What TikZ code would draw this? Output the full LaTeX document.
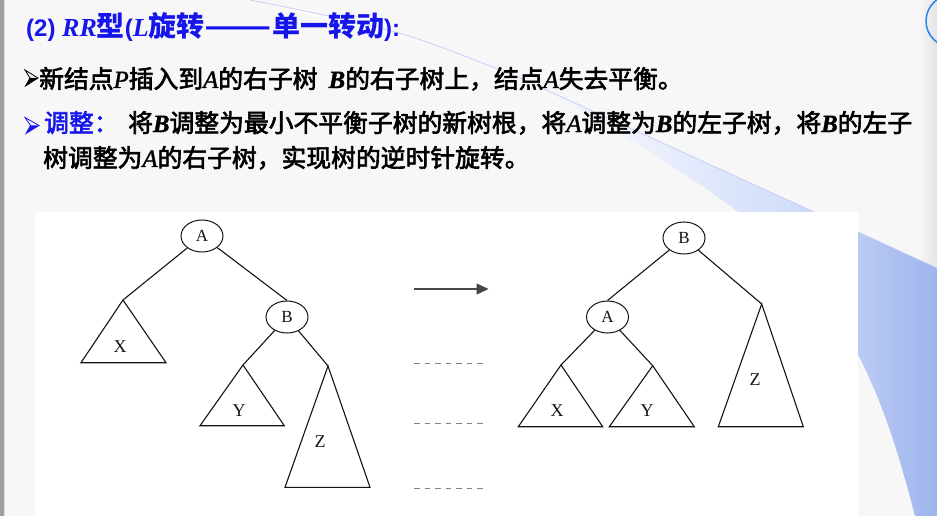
\documentclass[tikz,border=0pt]{standalone}
\usepackage{fontspec}
\setmainfont{Liberation Serif}
\newfontfamily\cjk{Noto Sans CJK SC}
\newfontfamily\cjkm[FakeBold=2.5]{Noto Sans CJK SC}
\newfontfamily\serifit{Liberation Serif}
\newfontfamily\serifm[FakeBold=1.5]{Liberation Serif}
\newfontfamily\sansb{Liberation Sans}
\usetikzlibrary{shapes.geometric,arrows.meta}
\definecolor{ttlblue}{RGB}{22,22,235}
\definecolor{slidebg}{RGB}{247,247,247}
\definecolor{swline}{RGB}{200,207,243}
\definecolor{swA}{RGB}{240,243,253}
\definecolor{swB}{RGB}{208,220,250}
\definecolor{swC}{RGB}{157,180,236}
\definecolor{inkc}{RGB}{20,20,20}
\definecolor{stripg}{RGB}{228,228,228}
\definecolor{bardark}{RGB}{160,160,160}
\definecolor{barlight}{RGB}{222,222,222}
\definecolor{logob}{RGB}{40,130,240}
\definecolor{arrg}{RGB}{70,70,70}
\definecolor{dashg}{RGB}{130,130,130}
\pgfdeclarehorizontalshading{swoosh}{100bp}{color(0bp)=(white); color(25bp)=(white); color(52bp)=(swA); color(65bp)=(swB); color(75bp)=(swC); color(100bp)=(swC)}
\tikzset{
  nd/.style={ellipse, draw=inkc, line width=1pt, minimum width=42, minimum height=32, inner sep=0pt, font=\serifit\fontsize{17}{17}\selectfont, text=inkc},
  edge/.style={draw=inkc, line width=1.1pt},
  tri/.style={draw=inkc, line width=1.1pt, line join=miter},
  lbl/.style={inner sep=0pt, font=\serifit\fontsize{18}{18}\selectfont, text=inkc},
  body/.style={anchor=base west, inner sep=0pt, font=\cjkm\fontsize{24.8}{30}\selectfont, text=black},
  bulout/.style={line width=0.8pt, line join=miter},
  dashl/.style={draw=dashg, line width=1.2pt, dash pattern=on 5.5pt off 5pt},
}
\newcommand\lit[1]{{\serifm\itshape #1}}
\newcommand\lbi[1]{{\serifm\bfseries\itshape #1}}
\begin{document}
\begin{tikzpicture}[x=1pt,y=-1pt]
\useasboundingbox (0,0) rectangle (937,516);
\clip (0,0) rectangle (937,516);
% background
\fill[slidebg] (0,0) rectangle (937,516);
\fill[left color=slidebg, right color=stripg] (918,0) rectangle (937,300);
\fill[bardark] (0,0) rectangle (3.5,516);
\fill[barlight] (3.5,0) rectangle (5,516);
% swoosh
\path[shading=swoosh] (250,0) .. controls (400,30) .. (520,78) -- (937,268) -- (937,516) -- (915,516)
   .. controls (885,400) and (850,300) .. (740,213) .. controls (640,140) and (540,85) .. (480,58) -- cycle;
\draw[swline, line width=0.8pt] (250,0) .. controls (400,30) .. (520,78) -- (937,268);
% logo ring
\draw[logob, line width=1.5pt] (952,21) circle (26);
% diagram area
\fill[white] (35,212) rectangle (858,516);
% title
\node[anchor=base west, inner sep=0pt, text=ttlblue, font=\cjk\bfseries\fontsize{28}{32}\selectfont] (ttl) at (26,37)
  {{\sansb\bfseries\fontsize{24}{28}\selectfont(2) }{\serifit\bfseries\itshape\fontsize{26}{28}\selectfont RR}型{\sansb\bfseries\fontsize{24}{28}\selectfont(}{\serifit\bfseries\itshape\fontsize{26}{28}\selectfont L}旋转\scalebox{1.4}[1]{——}单一转动{\sansb\bfseries\fontsize{24}{28}\selectfont):}};
% bullet 1 (black)
\coordinate (p1a) at (25,70); \coordinate (p1t) at (38,78); \coordinate (p1b) at (25.5,86); \coordinate (p1n) at (30,78);
\draw[bulout, black] (p1a) -- (p1t) -- (p1b) -- (p1n) -- cycle;
\fill[black] (p1n) -- (p1t) -- (p1b) -- cycle;
% bullet 2 (blue)
\coordinate (p2a) at (25,117.5); \coordinate (p2t) at (39,125.5); \coordinate (p2b) at (26,133.5); \coordinate (p2n) at (30.5,125.5);
\draw[bulout, ttlblue] (p2a) -- (p2t) -- (p2b) -- (p2n) -- cycle;
\fill[ttlblue] (p2n) -- (p2t) -- (p2b) -- cycle;
% text lines
\node[body] (ln2) at (39,88) {新结点\lit{P}插入到\lit{A}的右子树\hspace{0.45em}\lbi{B}的右子树上，结点\lit{A}失去平衡。};
\node[body, text=ttlblue] (adj) at (44,132) {调整：};
\node[body] (ln3) at (128,132) {将\lbi{B}调整为最小不平衡子树的新树根，将\lit{A}调整为\lbi{B}的左子树，将\lbi{B}的左子};
\node[body] (ln4) at (43,167) {树调整为\lit{A}的右子树，实现树的逆时针旋转。};
% left tree
\node[nd] (A1) at (202,236) {A};
\node[nd] (B1) at (287,317) {B};
\coordinate (X1t) at (123,300);
\coordinate (Y1t) at (243,365);
\coordinate (Z1t) at (328,366);
\draw[edge] (A1) -- (X1t);
\draw[edge] (A1) -- (B1.north);
\draw[edge] (B1) -- (Y1t);
\draw[edge] (B1) -- (Z1t);
\draw[tri] (X1t) -- (81,362.7) -- (166,362.7) -- cycle;
\draw[tri] (Y1t) -- (200,425.7) -- (284.3,425.7) -- cycle;
\draw[tri] (Z1t) -- (285,487.3) -- (370,487.3) -- cycle;
\node[lbl] (X1) at (120,347) {X};
\node[lbl] (Y1) at (239,411) {Y};
\node[lbl] (Z1) at (320,442) {Z};
% arrow and dashed lines
\coordinate (arS) at (414,289);
\coordinate (arE) at (488.5,289);
\draw[arrg, line width=1.3pt, -{Triangle[length=12pt,width=11pt]}] (arS) -- (arE);
\coordinate (d1s) at (414,363.3); \coordinate (d1e) at (485,363.3);
\coordinate (d2s) at (414,423.3); \coordinate (d2e) at (485,423.3);
\coordinate (d3s) at (414,488.7); \coordinate (d3e) at (485,488.7);
\draw[dashl] (d1s) -- (d1e);
\draw[dashl] (d2s) -- (d2e);
\draw[dashl] (d3s) -- (d3e);
% right tree
\node[nd] (B2) at (684,238) {B};
\node[nd] (A2) at (607.5,317) {A};
\coordinate (X2t) at (561,365);
\coordinate (Y2t) at (652.7,365.7);
\coordinate (Z2t) at (761.7,304);
\draw[edge] (B2) -- (A2.north);
\draw[edge] (B2) -- (Z2t);
\draw[edge] (A2) -- (X2t);
\draw[edge] (A2) -- (Y2t);
\draw[tri] (X2t) -- (518.3,426.7) -- (602.7,426.7) -- cycle;
\draw[tri] (Y2t) -- (609.3,426.7) -- (694.3,426.7) -- cycle;
\draw[tri] (Z2t) -- (718.3,426.7) -- (803.3,426.7) -- cycle;
\node[lbl] (X2) at (557,411) {X};
\node[lbl] (Y2) at (647,411) {Y};
\node[lbl] (Z2) at (755,380) {Z};
\end{tikzpicture}
\end{document}
